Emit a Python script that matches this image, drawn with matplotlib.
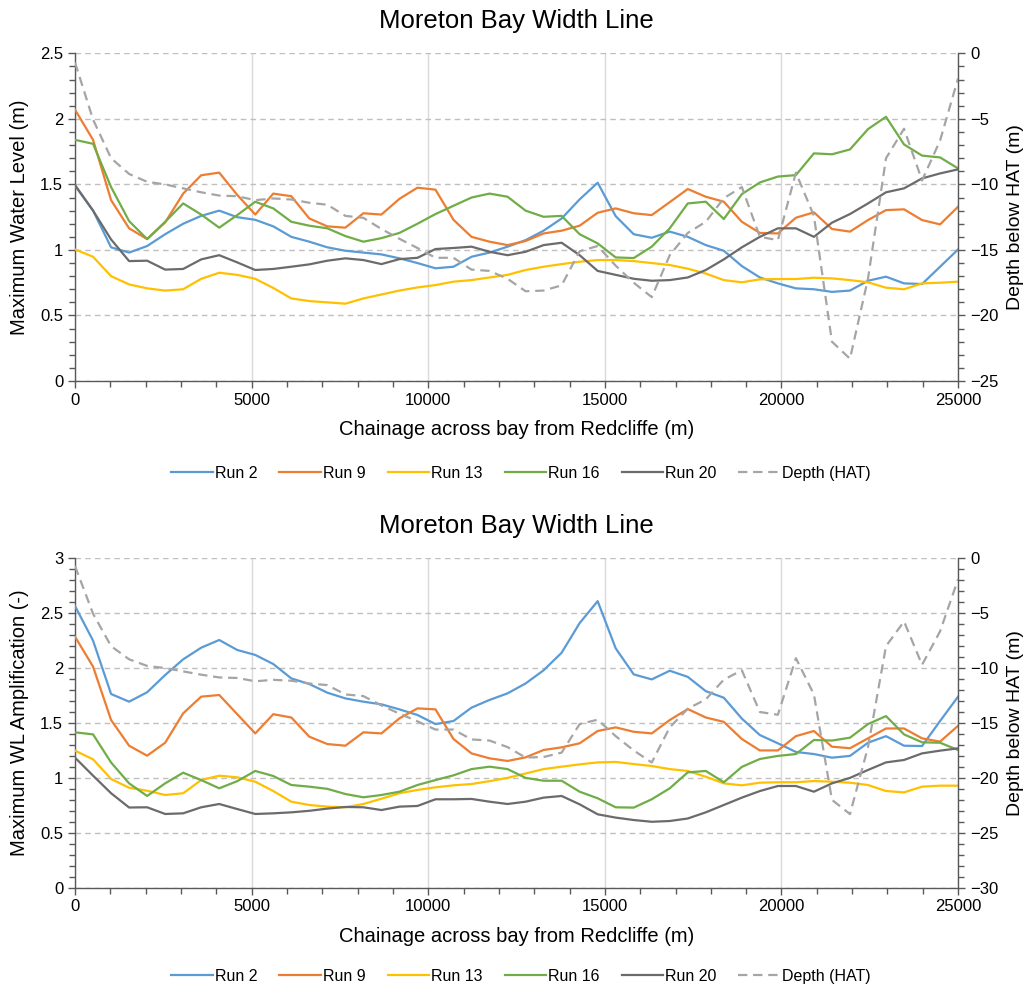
import numpy as np
import matplotlib
matplotlib.use("Agg")
import matplotlib.pyplot as plt
from matplotlib.ticker import MultipleLocator

plt.rcParams['font.family'] = ['Liberation Sans', 'DejaVu Sans']

# chainage of the 50 sample points across the bay (m)
chainage = np.linspace(0, 25000, 50)

run_names = ["Run 2", "Run 9", "Run 13", "Run 16", "Run 20"]
run_colors = ["#5B9BD5", "#ED7D31", "#FFC000", "#70AD47", "#6B6B6B"]

# ---- Top panel: maximum water level (m)
wl_run2 = [1.49, 1.30, 1.02, 0.98, 1.03, 1.12, 1.20, 1.26, 1.30, 1.25,
           1.23, 1.18, 1.10, 1.063, 1.02, 0.994, 0.98, 0.966, 0.936, 0.90,
           0.86, 0.872, 0.948, 0.98, 1.025, 1.075, 1.147, 1.24, 1.386, 1.513,
           1.258, 1.12, 1.093, 1.14, 1.10, 1.037, 0.994, 0.877, 0.79, 0.745,
           0.707, 0.70, 0.68, 0.69, 0.765, 0.796, 0.745, 0.74, 0.872, 1.004]
wl_run9 = [2.07, 1.84, 1.38, 1.165, 1.083, 1.21, 1.43, 1.57, 1.59, 1.42,
           1.27, 1.43, 1.41, 1.24, 1.18, 1.17, 1.28, 1.27, 1.39, 1.475,
           1.46, 1.23, 1.10, 1.063, 1.037, 1.068, 1.126, 1.147, 1.185, 1.284,
           1.317, 1.28, 1.266, 1.365, 1.465, 1.406, 1.368, 1.215, 1.13, 1.126,
           1.246, 1.287, 1.16, 1.14, 1.228, 1.304, 1.31, 1.228, 1.195, 1.33]
wl_run13 = [1.004, 0.948, 0.80, 0.737, 0.707, 0.69, 0.70, 0.78, 0.826, 0.81,
            0.78, 0.71, 0.63, 0.61, 0.60, 0.59, 0.63, 0.66, 0.69, 0.714,
            0.732, 0.758, 0.77, 0.79, 0.81, 0.847, 0.872, 0.892, 0.91, 0.923,
            0.923, 0.915, 0.90, 0.885, 0.857, 0.82, 0.77, 0.753, 0.776, 0.778,
            0.778, 0.788, 0.783, 0.77, 0.753, 0.712, 0.70, 0.745, 0.75, 0.758]
wl_run16 = [1.84, 1.81, 1.48, 1.22, 1.083, 1.215, 1.355, 1.27, 1.17, 1.266,
            1.368, 1.317, 1.215, 1.185, 1.165, 1.106, 1.063, 1.09, 1.13, 1.20,
            1.274, 1.337, 1.40, 1.43, 1.406, 1.30, 1.253, 1.26, 1.12, 1.05,
            0.943, 0.938, 1.025, 1.165, 1.355, 1.368, 1.236, 1.426, 1.515, 1.56,
            1.571, 1.737, 1.73, 1.767, 1.922, 2.016, 1.805, 1.72, 1.706, 1.622]
wl_run20 = [1.495, 1.30, 1.08, 0.915, 0.918, 0.85, 0.855, 0.928, 0.96, 0.905,
            0.847, 0.855, 0.872, 0.89, 0.918, 0.936, 0.923, 0.892, 0.93, 0.94,
            1.007, 1.015, 1.025, 0.986, 0.96, 0.986, 1.037, 1.055, 0.96, 0.84,
            0.81, 0.78, 0.765, 0.77, 0.79, 0.847, 0.928, 1.02, 1.10, 1.165,
            1.165, 1.10, 1.208, 1.274, 1.355, 1.44, 1.47, 1.546, 1.584, 1.615]

# ---- Bottom panel: maximum WL amplification (-)
amp_run2 = [2.565, 2.25, 1.764, 1.694, 1.78, 1.937, 2.08, 2.186, 2.256, 2.165,
            2.12, 2.037, 1.906, 1.855, 1.776, 1.724, 1.694, 1.67, 1.624, 1.573,
            1.49, 1.518, 1.64, 1.71, 1.77, 1.86, 1.98, 2.14, 2.41, 2.61,
            2.18, 1.943, 1.897, 1.976, 1.92, 1.79, 1.73, 1.54, 1.39, 1.315,
            1.236, 1.217, 1.184, 1.20, 1.32, 1.38, 1.293, 1.29, 1.518, 1.74]
amp_run9 = [2.286, 2.013, 1.527, 1.293, 1.202, 1.32, 1.588, 1.74, 1.755, 1.58,
            1.405, 1.58, 1.55, 1.375, 1.308, 1.293, 1.415, 1.405, 1.542, 1.633,
            1.624, 1.354, 1.223, 1.178, 1.154, 1.187, 1.254, 1.278, 1.315, 1.427,
            1.46, 1.42, 1.405, 1.527, 1.627, 1.55, 1.51, 1.354, 1.25, 1.25,
            1.38, 1.427, 1.284, 1.27, 1.36, 1.45, 1.45, 1.36, 1.33, 1.475]
amp_run13 = [1.248, 1.169, 0.99, 0.91, 0.883, 0.844, 0.86, 0.98, 1.02, 1.005,
             0.965, 0.88, 0.783, 0.753, 0.738, 0.732, 0.762, 0.81, 0.86, 0.89,
             0.914, 0.932, 0.944, 0.97, 1.0, 1.04, 1.08, 1.102, 1.123, 1.141,
             1.145, 1.126, 1.108, 1.08, 1.063, 1.01, 0.95, 0.932, 0.956, 0.96,
             0.96, 0.971, 0.965, 0.956, 0.935, 0.88, 0.868, 0.92, 0.929, 0.929]
amp_run16 = [1.415, 1.396, 1.14, 0.95, 0.835, 0.95, 1.047, 0.98, 0.905, 0.97,
             1.063, 1.017, 0.935, 0.92, 0.90, 0.853, 0.823, 0.844, 0.874, 0.935,
             0.98, 1.023, 1.08, 1.102, 1.08, 1.0, 0.974, 0.974, 0.874, 0.814,
             0.732, 0.729, 0.805, 0.905, 1.05, 1.063, 0.96, 1.10, 1.172, 1.20,
             1.217, 1.345, 1.34, 1.366, 1.49, 1.563, 1.396, 1.324, 1.32, 1.254]
amp_run20 = [1.184, 1.02, 0.86, 0.73, 0.732, 0.671, 0.677, 0.732, 0.762, 0.716,
             0.671, 0.677, 0.686, 0.70, 0.72, 0.735, 0.732, 0.707, 0.738, 0.744,
             0.805, 0.805, 0.808, 0.783, 0.762, 0.783, 0.82, 0.835, 0.759, 0.668,
             0.638, 0.616, 0.60, 0.607, 0.63, 0.686, 0.753, 0.82, 0.88, 0.926,
             0.926, 0.874, 0.95, 1.0, 1.072, 1.141, 1.163, 1.223, 1.248, 1.269]

# ---- Bed depth below HAT (m), secondary axis of both panels
depth_hat = [-0.7, -5.05, -8.0, -9.2, -9.8, -10.0, -10.3, -10.6, -10.85, -10.9,
             -11.2, -11.07, -11.15, -11.4, -11.55, -12.4, -12.55, -13.4, -14.15, -14.85,
             -15.6, -15.6, -16.5, -16.6, -17.2, -18.15, -18.1, -17.7, -15.1, -14.7,
             -16.2, -17.5, -18.6, -15.4, -13.7, -12.85, -11.05, -10.2, -14.0, -14.25,
             -9.1, -12.4, -22.0, -23.3, -17.2, -8.0, -5.75, -9.7, -6.65, -1.9]
depth_name = "Depth (HAT)"
depth_color = "#A5A5A5"

title = "Moreton Bay Width Line"
xlabel = "Chainage across bay from Redcliffe (m)"
right_label = "Depth below HAT (m)"

AX_COL = "#595959"


def panel(ax, runs, ylabel, ymax, dmin, legend_y):
    for vals, name, col in zip(runs, run_names, run_colors):
        ax.plot(chainage, vals, color=col, lw=1.6, label=name, zorder=3)
    axr = ax.twinx()
    axr.plot(chainage, depth_hat, color=depth_color, lw=1.6,
             dashes=(4.2, 2.6), label=depth_name, zorder=3)

    ax.set_xlim(0, 25000)
    ax.set_ylim(0, ymax)
    axr.set_ylim(dmin, 0)
    ax.xaxis.set_major_locator(MultipleLocator(5000))
    ax.xaxis.set_minor_locator(MultipleLocator(1000))
    ax.yaxis.set_major_locator(MultipleLocator(0.5))
    ax.yaxis.set_minor_locator(MultipleLocator(0.1))
    axr.yaxis.set_major_locator(MultipleLocator(5))
    axr.yaxis.set_minor_locator(MultipleLocator(1))
    ax.yaxis.set_major_formatter(plt.FuncFormatter(lambda v, p: f"{v:g}"))

    ax.grid(axis='y', which='major', color='#BFBFBF', lw=1.0,
            linestyle=(0, (4, 3)))
    ax.grid(axis='x', which='major', color='#D9D9D9', lw=1.0, linestyle='-')
    ax.set_axisbelow(True)

    for a in (ax, axr):
        a.spines['top'].set_visible(False)
        for s in ('left', 'right', 'bottom'):
            a.spines[s].set_color(AX_COL)
            a.spines[s].set_linewidth(1.0)
        a.tick_params(which='both', direction='out', color=AX_COL,
                      width=1.0, labelsize=12, labelcolor='black')
        a.tick_params(which='major', length=5)
        a.tick_params(which='minor', length=4)
    ax.spines['right'].set_visible(False)
    axr.spines['left'].set_visible(False)
    axr.spines['bottom'].set_visible(False)

    ax.set_ylabel(ylabel, fontsize=14.5, labelpad=8)
    axr.set_ylabel(right_label, fontsize=14, labelpad=6)
    ax.set_xlabel(xlabel, fontsize=14.5, labelpad=9)
    ax.set_title(title, fontsize=18.5, pad=18)

    h1, l1 = ax.get_legend_handles_labels()
    h2, l2 = axr.get_legend_handles_labels()
    fig.legend(h1 + h2, l1 + l2, loc='center', bbox_to_anchor=(0.507, legend_y),
               ncol=6, frameon=False, fontsize=11.5, handlelength=2.6,
               handletextpad=0.15, columnspacing=1.35)


fig = plt.figure(figsize=(10.28, 9.94), dpi=100)
ax_top = fig.add_axes([0.073, 0.6167, 0.859, 0.3296])
ax_bot = fig.add_axes([0.073, 0.1070, 0.859, 0.3313])

panel(ax_top, [wl_run2, wl_run9, wl_run13, wl_run16, wl_run20],
      "Maximum Water Level (m)", 2.5, -25, 0.524)
panel(ax_bot, [amp_run2, amp_run9, amp_run13, amp_run16, amp_run20],
      "Maximum WL Amplification (-)", 3.0, -30, 0.018)

fig.savefig("out.png", dpi=100, facecolor='white')
